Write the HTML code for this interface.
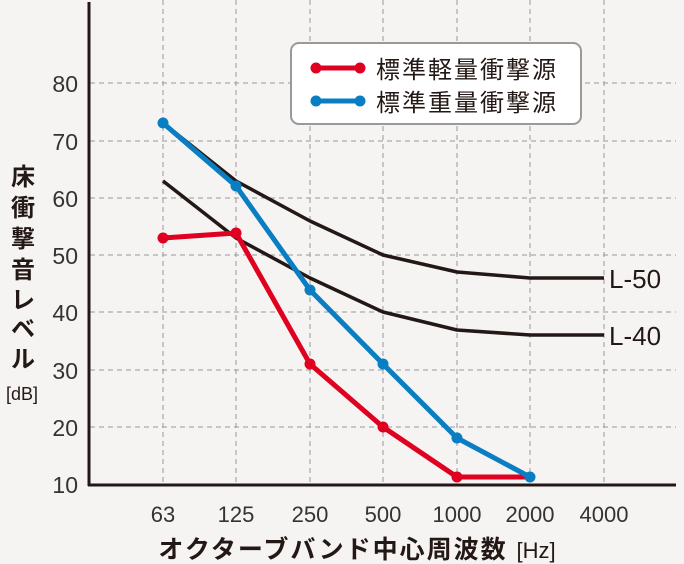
<!DOCTYPE html>
<html><head><meta charset="utf-8"><style>
body{margin:0;background:#f5f4f2;}
svg{display:block;font-family:"Liberation Sans","Noto Sans CJK JP",sans-serif;}
</style></head><body>
<svg width="684" height="564" viewBox="0 0 684 564">
<rect width="684" height="564" fill="#f5f4f2"/>
<g stroke="#999" stroke-width="1" stroke-dasharray="5,4" fill="none">
<line x1="90" y1="83" x2="676" y2="83"/>
<line x1="90" y1="141" x2="676" y2="141"/>
<line x1="90" y1="198" x2="676" y2="198"/>
<line x1="90" y1="255" x2="676" y2="255"/>
<line x1="90" y1="312" x2="676" y2="312"/>
<line x1="90" y1="370" x2="676" y2="370"/>
<line x1="90" y1="427" x2="676" y2="427"/>
<line x1="163" y1="0" x2="163" y2="484"/>
<line x1="236" y1="0" x2="236" y2="484"/>
<line x1="310" y1="0" x2="310" y2="484"/>
<line x1="383" y1="0" x2="383" y2="484"/>
<line x1="457" y1="0" x2="457" y2="484"/>
<line x1="530" y1="0" x2="530" y2="484"/>
<line x1="604" y1="0" x2="604" y2="484"/>
</g>
<line x1="89" y1="2" x2="89" y2="486" stroke="#231815" stroke-width="3"/>
<line x1="88" y1="485" x2="676" y2="485" stroke="#231815" stroke-width="3"/>
<g fill="#333" font-size="23" text-anchor="end">
<text x="78" y="92">80</text><text x="78" y="150">70</text><text x="78" y="207">60</text>
<text x="78" y="264">50</text><text x="78" y="321">40</text><text x="78" y="379">30</text>
<text x="78" y="436">20</text><text x="78" y="493">10</text>
</g>
<g fill="#333" font-size="22" text-anchor="middle">
<text x="163" y="522">63</text><text x="236" y="522">125</text><text x="310" y="522">250</text>
<text x="383" y="522">500</text><text x="457" y="522">1000</text><text x="530" y="522">2000</text><text x="604" y="522">4000</text>
</g>
<g fill="none" stroke="#231815" stroke-width="3.5" stroke-linejoin="round">
<polyline points="163,123 236,181 310,221 383,255 457,272 530,278 604,278"/>
<polyline points="163,181 236,238 310,278 383,312 457,330 530,335 604,335"/>
</g>
<g fill="#231815" font-size="26">
<text x="609" y="288">L-50</text><text x="609" y="345">L-40</text>
</g>
<polyline points="163,238 236,233 310,364 383,427 457,477 530,477" fill="none" stroke="#e0001f" stroke-width="5" stroke-linejoin="round"/>
<g fill="#e0001f"><circle cx="163" cy="238" r="5.5"/><circle cx="236" cy="233" r="5.5"/><circle cx="310" cy="364" r="5.5"/><circle cx="383" cy="427" r="5.5"/><circle cx="457" cy="477" r="5.5"/></g>
<polyline points="163,123 236,186 310,290 383,364 457,438 530,477" fill="none" stroke="#0a7ec2" stroke-width="5" stroke-linejoin="round"/>
<g fill="#0a7ec2"><circle cx="163" cy="123" r="5.5"/><circle cx="236" cy="186" r="5.5"/><circle cx="310" cy="290" r="5.5"/><circle cx="383" cy="364" r="5.5"/><circle cx="457" cy="438" r="5.5"/><circle cx="530" cy="477" r="5.5"/></g>
<rect x="291" y="43" width="290" height="81" rx="8" fill="#fff" stroke="#999" stroke-width="2"/>
<line x1="316" y1="68" x2="360" y2="68" stroke="#e0001f" stroke-width="5"/>
<circle cx="316" cy="68" r="5.5" fill="#e0001f"/><circle cx="360" cy="68" r="5.5" fill="#e0001f"/>
<line x1="316" y1="101" x2="360" y2="101" stroke="#0a7ec2" stroke-width="5"/>
<circle cx="316" cy="101" r="5.5" fill="#0a7ec2"/><circle cx="360" cy="101" r="5.5" fill="#0a7ec2"/>
<g fill="#231815" font-size="24" letter-spacing="2">
<text x="376" y="78">標準軽量衝撃源</text><text x="376" y="111">標準重量衝撃源</text>
</g>
<g fill="#231815" font-size="24" font-weight="bold" text-anchor="middle">
<text x="23" y="185">床</text><text x="23" y="216">衝</text><text x="23" y="247">撃</text>
<text x="23" y="278">音</text><text x="23" y="308">レ</text><text x="23" y="337">ベ</text><text x="23" y="367">ル</text>
</g>
<text x="22" y="400" fill="#231815" font-size="18" text-anchor="middle">[dB]</text>
<text x="357" y="558" fill="#231815" font-size="25" font-weight="bold" text-anchor="middle" letter-spacing="2">オクターブバンド中心周波数 <tspan font-weight="normal" font-size="22" letter-spacing="0">[Hz]</tspan></text>
</svg>
</body></html>
